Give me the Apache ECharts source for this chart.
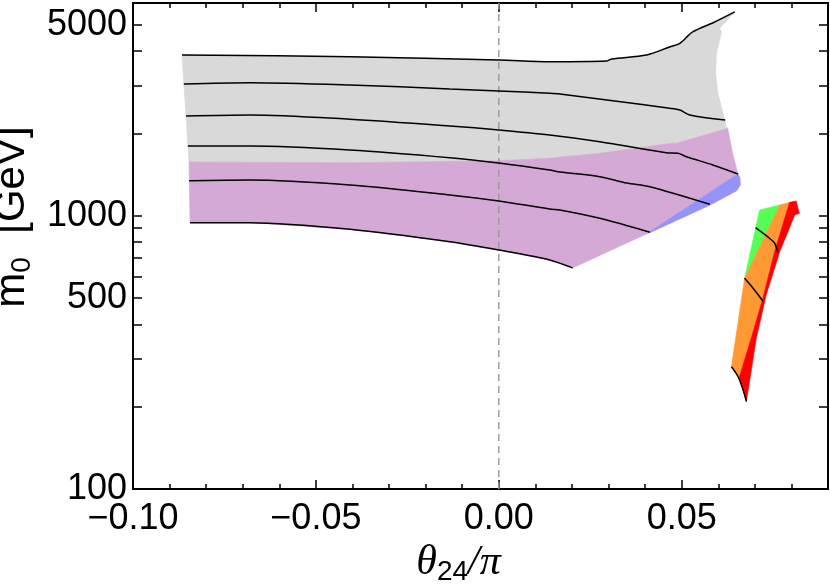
<!DOCTYPE html>
<html><head><meta charset="utf-8">
<script src="https://cdn.jsdelivr.net/npm/echarts@6/dist/echarts.min.js"></script>
<style>html,body{margin:0;padding:0;background:#fff}#c{width:830px;height:584px}</style>
</head><body><div id="c"></div>
<script>
// ---- tick / label values ----
const xLabelValues = [-0.10, -0.05, 0.00, 0.05];
const xMinorTickValues = [-0.09,-0.08,-0.07,-0.06,-0.04,-0.03,-0.02,-0.01,0.01,0.02,0.03,0.04,0.06,0.07,0.08];
const yTickValues = [100,200,300,400,500,600,700,800,900,1000,2000,3000,4000,5000];
const yLabelValues = [100, 500, 1000, 5000];

// ---- shaded regions (theta24/pi, m0 in GeV) ----
const grayRegion = [
  [-0.0866,3873],[-0.0407,3818],[0,3713],[0.0139,3660],[0.0295,3681],[0.0309,3745],[0.0404,3873],
  [0.0467,4144],[0.0495,4273],[0.0530,4701],[0.0586,5080],[0.0645,5565],
  [0.0604,4850],[0.0609,4701],[0.0595,3928],[0.0593,3319],[0.0599,2805],[0.0613,2369],[0.0622,2117],[0.0626,2088],
  [0.0486,1841],[0.0472,1841],[0.0276,1692],[0.0167,1640],[0.0139,1622],[0,1589],[-0.0407,1563],[-0.0847,1572],
  [-0.0850,1799],[-0.0855,2317],[-0.0861,3033]
];
const purpleRegion = [
  [-0.0847,1572],[-0.0407,1563],[0,1589],[0.0139,1622],[0.0167,1640],[0.0276,1692],[0.0472,1841],[0.0486,1841],[0.0626,2088],
  [0.0639,1696],[0.0654,1421],[0.0659,1374],[0.0660,1295],[0.0650,1235],[0.0577,1094],[0.0413,867],[0.0350,795],[0.0202,644],
  [0.0139,689],[0,749],[-0.0134,803],[-0.0407,892],[-0.0680,943],[-0.0844,943]
];
const blueRegion = [
  [0.0654,1421],[0.0659,1374],[0.0660,1295],[0.0650,1235],[0.0577,1094],[0.0413,867],[0.0413,874]
];
const greenRegion = [[0.0713,1049],[0.0768,1094],[0.0672,590]];
const orangeRegion = [
  [0.0768,1094],[0.0795,1119],[0.0754,738],[0.0722,499],[0.0690,356],[0.0657,255],[0.0636,280],[0.0672,590]
];
const redRegion = [
  [0.0795,1119],[0.0813,1132],[0.0818,1064],[0.0822,1020],[0.0809,1006],[0.0768,738],[0.0731,513],[0.0704,356],
  [0.0677,209],[0.0668,230],[0.0657,255],[0.0690,356],[0.0722,499],[0.0754,738]
];

// ---- black contour curves ----
const curve1 = [[-0.0866,3873],[-0.0407,3818],[0,3713],[0.0139,3660],[0.0295,3681],[0.0309,3745],[0.0404,3873],
  [0.0467,4144],[0.0495,4273],[0.0530,4701],[0.0586,5080],[0.0645,5565]];
const curve2 = [[-0.0861,3033],[-0.0680,3067],[-0.0407,3008],[-0.0134,2908],[0,2860],[0.0139,2805],[0.0167,2788],
  [0.0317,2629],[0.0467,2472],[0.0495,2437],[0.0522,2336],[0.0619,2240]];
const curve3 = [[-0.0855,2317],[-0.0680,2336],[-0.0407,2253],[-0.0134,2129],[0,2059],[0.0139,1974],[0.0276,1866],
  [0.0458,1700],[0.0490,1692],[0.0513,1644],[0.0585,1533],[0.0654,1421]];
const curve4 = [[-0.0850,1799],[-0.0680,1799],[-0.0407,1740],[-0.0134,1630],[0,1559],[0.0139,1470],[0.0167,1445],
  [0.0276,1389],[0.0350,1317],[0.0413,1277],[0.0577,1101]];
const curve5 = [[-0.0847,1343],[-0.0680,1351],[-0.0407,1295],[-0.0134,1191],[0,1132],[0.0139,1058],[0.0167,1049],
  [0.0276,978],[0.0413,870]];
const curve6 = [[-0.0844,943],[-0.0680,943],[-0.0407,892],[-0.0134,803],[0,749],[0.0139,689],[0.0202,644]];
const curveA = [[0.0702,904],[0.0740,827],[0.0754,793],[0.0763,732]];
const curveB = [[0.0672,590],[0.0699,535],[0.0722,487]];
const curveC = [[0.0636,280],[0.0654,258],[0.0668,230],[0.0677,209]];
const zeroLineX = [0, 0];
const zeroLineY = [100, 6000];

// ---- build chart ----
const FONT = 'Liberation Sans, Arial, Helvetica, sans-serif';
const fmtX = v => (v < 0 ? '\u2212' : '') + Math.abs(v).toFixed(2);

function poly(points, color, z) {
  return {
    type: 'custom', coordinateSystem: 'cartesian2d', xAxisIndex: 0, yAxisIndex: 0,
    z: z, silent: true, clip: false,
    data: [points[0]],
    renderItem: (params, api) => ({
      type: 'polygon',
      shape: { points: points.map(p => api.coord(p)) },
      style: { fill: color, stroke: color, lineWidth: 0.6 }
    })
  };
}
function curve(points, smooth) {
  return {
    type: 'line', xAxisIndex: 0, yAxisIndex: 0, data: points, showSymbol: false, symbol: 'none',
    silent: true, z: 10, smooth: smooth === undefined ? 0.3 : smooth,
    lineStyle: { color: '#000', width: 1.5 }
  };
}

const xBase = {
  type: 'value', min: -0.10, max: 0.09, splitLine: { show: false }
};
const tickLine = { color: '#000', width: 1.5 };
const yBase = {
  type: 'log', logBase: 10, min: 100, max: 6000, splitLine: { show: false }, minorTick: { show: false }
};

const option = {
  animation: false,
  backgroundColor: '#fff',
  grid: { left: 133, right: 2, top: 3, bottom: 95, containLabel: false, outerBoundsMode: 'none' },
  xAxis: [
    Object.assign({}, xBase, {
      position: 'bottom',
      axisLine: { show: true, onZero: false, lineStyle: { color: '#000', width: 2 } },
      axisTick: { show: true, inside: true, length: 9, customValues: xLabelValues, lineStyle: tickLine },
      axisLabel: { show: true, customValues: xLabelValues, formatter: fmtX, fontSize: 36, fontFamily: FONT, color: '#000', margin: 12 },
      name: '{t|\u03b8}{s|24}{t|/\u03c0}',
      nameLocation: 'middle', nameGap: 40,
      nameTextStyle: {
        padding: [0, 44, 0, 0],
        rich: {
          t: { fontFamily: 'Liberation Serif, Times New Roman, serif', fontStyle: 'italic', fontSize: 42, lineHeight: 46, color: '#000' },
          s: { fontFamily: FONT, fontSize: 28, lineHeight: 30, verticalAlign: 'bottom', color: '#000' }
        }
      }
    }),
    Object.assign({}, xBase, {
      position: 'bottom',
      axisLine: { show: false, onZero: false },
      axisTick: { show: true, inside: true, length: 5, customValues: xMinorTickValues, lineStyle: tickLine },
      axisLabel: { show: false }
    }),
    Object.assign({}, xBase, {
      position: 'top',
      axisLine: { show: true, onZero: false, lineStyle: { color: '#000', width: 2 } },
      axisTick: { show: true, inside: true, length: 9, customValues: xLabelValues, lineStyle: tickLine },
      axisLabel: { show: false }
    }),
    Object.assign({}, xBase, {
      position: 'top',
      axisLine: { show: false, onZero: false },
      axisTick: { show: true, inside: true, length: 5, customValues: xMinorTickValues, lineStyle: tickLine },
      axisLabel: { show: false }
    })
  ],
  yAxis: [
    Object.assign({}, yBase, {
      position: 'left',
      axisLine: { show: true, onZero: false, lineStyle: { color: '#000', width: 2 } },
      axisTick: { show: true, inside: true, length: 9, customValues: yTickValues, lineStyle: tickLine },
      axisLabel: { show: true, customValues: yLabelValues, formatter: v => String(Math.round(v)), fontSize: 36, fontFamily: FONT, color: '#000', margin: 6 },
      name: '{m|m}{s|0}{m|  [GeV]}',
      nameLocation: 'middle', nameGap: 94,
      nameTextStyle: {
        padding: [0, 0, 0, 58],
        rich: {
          m: { fontFamily: FONT, fontSize: 42, lineHeight: 48, color: '#000' },
          s: { fontFamily: FONT, fontSize: 28, lineHeight: 31, verticalAlign: 'bottom', color: '#000' }
        }
      }
    }),
    Object.assign({}, yBase, {
      position: 'right',
      axisLine: { show: true, onZero: false, lineStyle: { color: '#000', width: 2 } },
      axisTick: { show: true, inside: true, length: 9, customValues: yTickValues, lineStyle: tickLine },
      axisLabel: { show: false }
    })
  ],
  series: [
    poly(grayRegion, '#d9d9d9', 1),
    poly(purpleRegion, '#d5a9d5', 2),
    poly(blueRegion, '#9393fb', 3),
    poly(greenRegion, '#55ff55', 3),
    poly(orangeRegion, '#ff9933', 3),
    poly(redRegion, '#ff0000', 3),
    {
      type: 'line', xAxisIndex: 0, yAxisIndex: 0, showSymbol: false, symbol: 'none', silent: true, z: 5,
      data: zeroLineX.map((x, i) => [x, zeroLineY[i]]),
      lineStyle: { color: '#999', width: 1.4, type: [7, 5] }
    },
    curve(curve1), curve(curve2), curve(curve3), curve(curve4), curve(curve5), curve(curve6),
    curve(curveA), curve(curveB), curve(curveC)
  ]
};

const chart = echarts.init(document.getElementById('c'), null, { renderer: 'canvas' });
chart.setOption(option);
</script>
</body></html>
